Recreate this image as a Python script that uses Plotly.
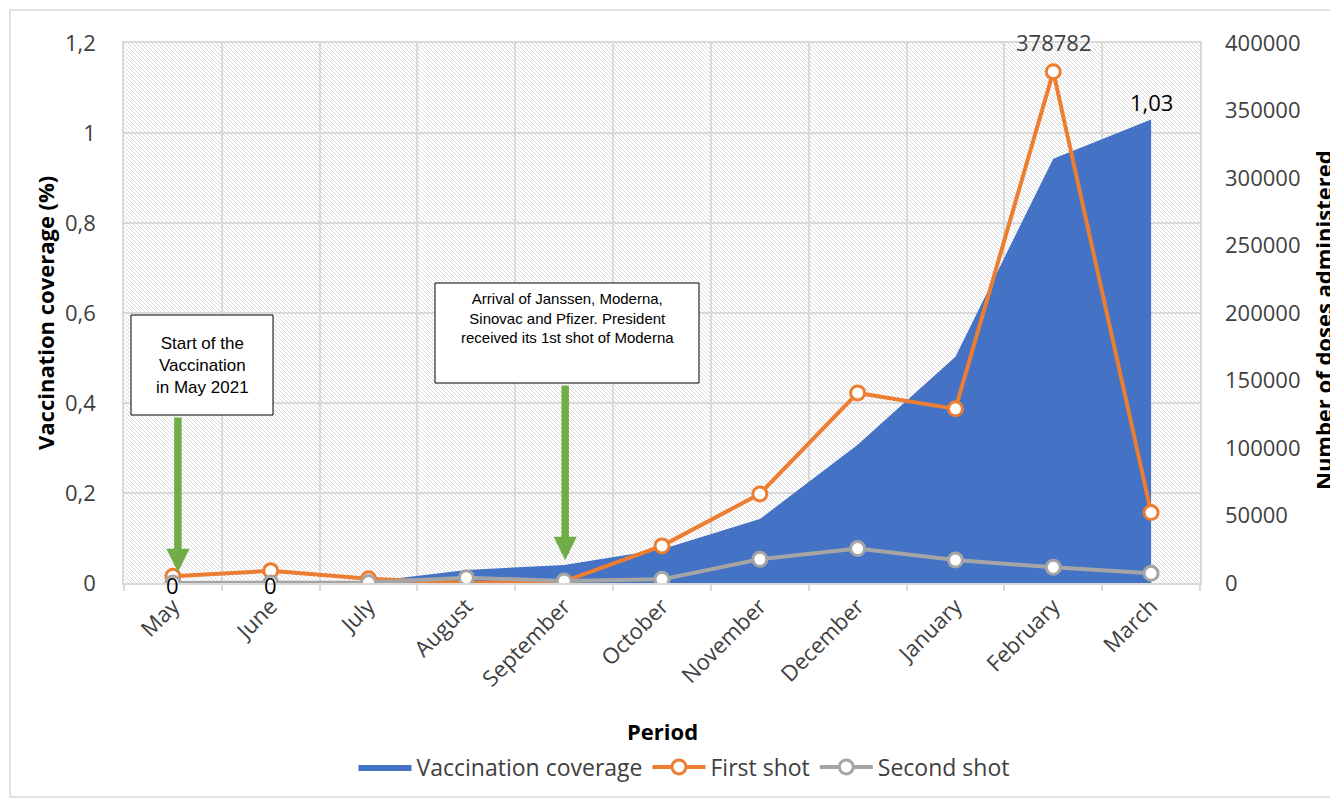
import base64
import plotly.graph_objects as go

# ---------------- data ----------------
months = ["May", "June", "July", "August", "September", "October",
          "November", "December", "January", "February", "March"]
coverage = [0, 0, 0.003, 0.029, 0.04, 0.075, 0.142, 0.307, 0.503, 0.943, 1.03]
first_shot = [5000, 9000, 3200, 0, 1200, 27500, 66000, 140800, 129000, 378782, 52200]
second_shot = [0, 0, 300, 3900, 1500, 2700, 17600, 25500, 17000, 11600, 7200]

left_tickvals = [0, 0.2, 0.4, 0.6, 0.8, 1.0, 1.2]
left_ticktext = ["0", "0,2", "0,4", "0,6", "0,8", "1", "1,2"]
right_tickvals = [0, 50000, 100000, 150000, 200000, 250000, 300000, 350000, 400000]
right_ticktext = [str(v) for v in right_tickvals]

coverage_label_idx = [0, 1, 10]
first_label_idx = [9]

note1 = "Start of the<br>Vaccination<br>in May 2021"
note2 = "Arrival of Janssen, Moderna,<br>Sinovac and Pfizer. President<br>received its 1st shot of Moderna"

# ---------------- styles ----------------
BLUE = "#4472C4"
ORANGE = "#ED7D31"
GRAY = "#A5A5A5"
GRID = "#D9D9D9"
TXT = "#404040"
FONT = "Open Sans"
FS = 22

OFF = 8                      # page body margin
W, H = 1338, 800
# target plot area on the page: x 124..1200, y 43..583
L = 124 - OFF
T = 43 - OFF
R = W - (1200 - OFF)
B = H - (583 - OFF)
PW, PH = W - L - R, H - T - B


def px_x(p):
    return (p - OFF - L) / PW


def px_y(p):
    return (T + PH - (p - OFF)) / PH


fig = go.Figure()

fig.add_trace(go.Scatter(
    x=months, y=coverage, name="Vaccination coverage",
    mode="lines", fill="tozeroy", fillcolor=BLUE,
    line=dict(width=0, color=BLUE), yaxis="y"))

fig.add_trace(go.Scatter(
    x=months, y=first_shot, name="First shot", yaxis="y2",
    mode="lines+markers",
    line=dict(color=ORANGE, width=4),
    marker=dict(symbol="circle", size=14, color="white",
                line=dict(color=ORANGE, width=3))))

fig.add_trace(go.Scatter(
    x=months, y=second_shot, name="Second shot", yaxis="y2",
    mode="lines+markers",
    line=dict(color=GRAY, width=4),
    marker=dict(symbol="circle", size=14, color="white",
                line=dict(color=GRAY, width=3))))

annotations = []
for i in coverage_label_idx:
    txt = f"{coverage[i]:g}".replace(".", ",")
    annotations.append(dict(
        x=months[i], y=coverage[i], xref="x", yref="y", text=txt,
        showarrow=False, yshift=(-2 if coverage[i] == 0 else 18),
        xanchor="center", yanchor="middle",
        font=dict(family=FONT, size=FS, color="#000000")))
for i in first_label_idx:
    annotations.append(dict(
        x=months[i], y=first_shot[i], xref="x", yref="y2", text=str(first_shot[i]),
        showarrow=False, yshift=30, xanchor="center", yanchor="middle",
        font=dict(family=FONT, size=FS, color=TXT)))

NOTE_FAMILY = "Liberation Sans Narrow, Liberation Sans, Arial"

shapes = []
# callout boxes (rectangles + centred text)
for (x0, x1, y0, y1), txt, ty, size in [
        ((131, 273, 315, 415), note1, 365, 17),
        ((435, 699, 283, 383), note2, 318, 15)]:
    shapes.append(dict(type="rect", xref="paper", yref="paper",
                       x0=px_x(x0), x1=px_x(x1), y0=px_y(y1), y1=px_y(y0),
                       line=dict(color="#000000", width=1), fillcolor="white",
                       layer="above"))
    annotations.append(dict(
        x=px_x((x0 + x1) / 2), y=px_y(ty), xref="paper", yref="paper", text=txt,
        xanchor="center", yanchor="middle", showarrow=False, align="center",
        font=dict(family=NOTE_FAMILY, size=size, color="#000000")))

# green arrows
for cat, tip, tail, dx in [("May", 572, 416, 5), ("September", 560, 384, 1)]:
    annotations.append(dict(
        x=cat, y=px_y(tip), xref="x", yref="paper", text="",
        showarrow=True, ax=0, ay=tail - tip, axref="pixel", ayref="pixel",
        xshift=dx, arrowhead=2, arrowsize=0.62, arrowwidth=7.5,
        arrowcolor="#70AD47"))

# axis titles
annotations.append(dict(
    x=px_x(45), y=px_y(313), xref="paper", yref="paper", text="<b>Vaccination coverage (%)</b>",
    textangle=-90, showarrow=False, xanchor="center", yanchor="middle",
    font=dict(family=FONT, size=FS, color="#000000")))
annotations.append(dict(
    x=px_x(1323), y=px_y(320), xref="paper", yref="paper", text="<b>Number of doses administered</b>",
    textangle=-90, showarrow=False, xanchor="center", yanchor="middle",
    font=dict(family=FONT, size=FS, color="#000000")))
annotations.append(dict(
    x=px_x(662), y=px_y(731), xref="paper", yref="paper", text="<b>Period</b>",
    showarrow=False, xanchor="center", yanchor="middle",
    font=dict(family=FONT, size=FS, color="#000000")))

# chart-area border
shapes.append(dict(type="rect", xref="paper", yref="paper",
                   x0=px_x(10), x1=px_x(1336), y0=px_y(797), y1=px_y(10),
                   line=dict(color=GRID, width=1.5), fillcolor="rgba(0,0,0,0)",
                   layer="below"))

# hatched plot-area background
svg = (
    f'<svg xmlns="http://www.w3.org/2000/svg" width="{PW}" height="{PH}">'
    '<defs><pattern id="h" width="4" height="4" patternUnits="userSpaceOnUse">'
    '<path d="M0,0 L4,4 M-1,3 L1,5 M3,-1 L5,1" stroke="#D9D9D9" stroke-width="1"/>'
    '</pattern></defs>'
    '<rect width="100%" height="100%" fill="white"/>'
    '<rect width="100%" height="100%" fill="url(#h)"/></svg>'
)
svg_uri = "data:image/svg+xml;base64," + base64.b64encode(svg.encode()).decode()

fig.update_layout(
    width=W, height=H,
    margin=dict(l=L, r=R, t=T, b=B, autoexpand=False),
    paper_bgcolor="white",
    plot_bgcolor="rgba(0,0,0,0)",
    font=dict(family=FONT, size=FS, color=TXT),
    showlegend=True,
    legend=dict(orientation="h", x=px_x(684), xanchor="center", y=px_y(767), yanchor="middle",
                font=dict(family=FONT, size=23, color=TXT), traceorder="normal",
                itemwidth=53, bgcolor="rgba(0,0,0,0)"),
    xaxis=dict(type="category", categoryorder="array", categoryarray=months,
               range=[-0.5, len(months) - 0.5],
               tickson="boundaries", showgrid=True, gridcolor=GRID, gridwidth=1.5,
               ticks="outside", ticklen=6, tickcolor=GRID, tickwidth=1.5,
               showline=True, linecolor=GRID, linewidth=1.5, mirror=True,
               tickangle=-45, tickfont=dict(size=FS, color=TXT), zeroline=False),
    yaxis=dict(range=[0, 1.2], tickvals=left_tickvals, ticktext=left_ticktext,
               showgrid=True, gridcolor=GRID, gridwidth=1.5, zeroline=False,
               showline=True, linecolor=GRID, linewidth=1.5, mirror=True,
               ticks="", ticklabelstandoff=22, tickfont=dict(size=FS, color=TXT)),
    yaxis2=dict(range=[0, 400000], tickvals=right_tickvals, ticktext=right_ticktext,
                overlaying="y", side="right", showgrid=False, zeroline=False,
                showline=False, ticks="", ticklabelstandoff=24,
                tickfont=dict(size=FS, color=TXT)),
    annotations=annotations,
    shapes=shapes,
    images=[dict(source=svg_uri, xref="paper", yref="paper", x=0, y=1,
                 sizex=1, sizey=1, xanchor="left", yanchor="top",
                 sizing="stretch", layer="below")],
    hovermode=False,
)

fig.write_html("out.html")
